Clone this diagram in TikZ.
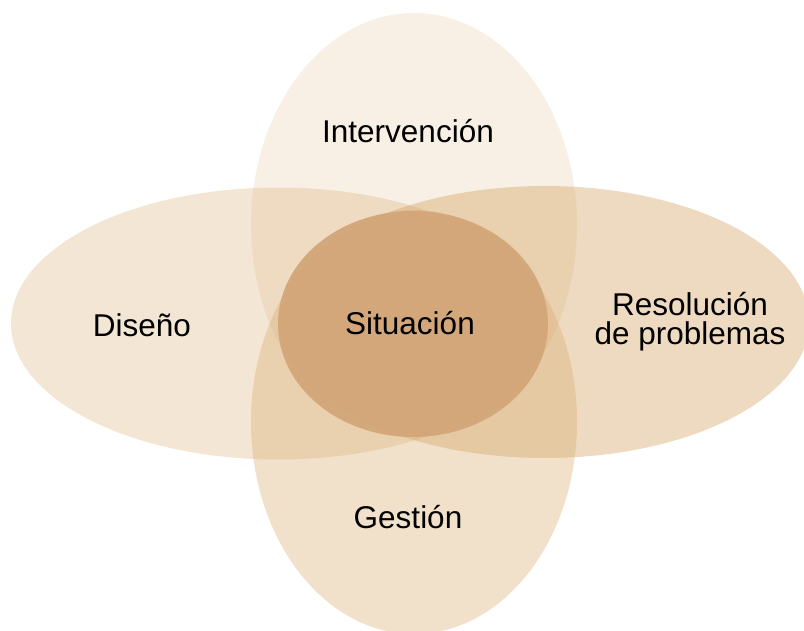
\documentclass[tikz,border=0pt]{standalone}
\usepackage{fontspec}
\setmainfont{Liberation Sans}
\usetikzlibrary{shapes.geometric}
\definecolor{cTop}{RGB}{220,180,125}
\definecolor{cLeft}{RGB}{215,172,112}
\definecolor{cRight}{RGB}{212,162,97}
\definecolor{cBottom}{RGB}{215,169,106}
\definecolor{cCenter}{RGB}{210,166,121}
\begin{document}
\begin{tikzpicture}[x=1pt,y=-1pt,
  petal/.style={ellipse, draw=none, inner sep=0pt},
  lbl/.style={font=\fontsize{31.5}{29}\selectfont, align=center, text=black, inner sep=1pt}]
\useasboundingbox (0,0) rectangle (804,631);
\node[petal, fill=cTop, fill opacity=0.2, minimum width=326pt, minimum height=424pt] (top) at (414,225) {};
\node[petal, fill=cLeft, fill opacity=0.3, minimum width=534pt, minimum height=272pt] (left) at (278,323.5) {};
\node[petal, fill=cRight, fill opacity=0.4, minimum width=528pt, minimum height=272pt] (right) at (545,322) {};
\node[petal, fill=cBottom, fill opacity=0.35, minimum width=326pt, minimum height=424pt] (bottom) at (414,422) {};
\node[petal, fill=cCenter, fill opacity=0.95, minimum width=270pt, minimum height=226pt] (center) at (413,324) {};
\node[lbl] (tIntervencion) at (408,131) {Intervención};
\node[lbl] (tDiseno) at (142,325) {Diseño};
\node[lbl] (tSituacion) at (410,323) {Situación};
\node[lbl] (tResolucion) at (690,322) {Resolución\\de problemas};
\node[lbl] (tGestion) at (408,517) {Gestión};
\end{tikzpicture}
\end{document}
